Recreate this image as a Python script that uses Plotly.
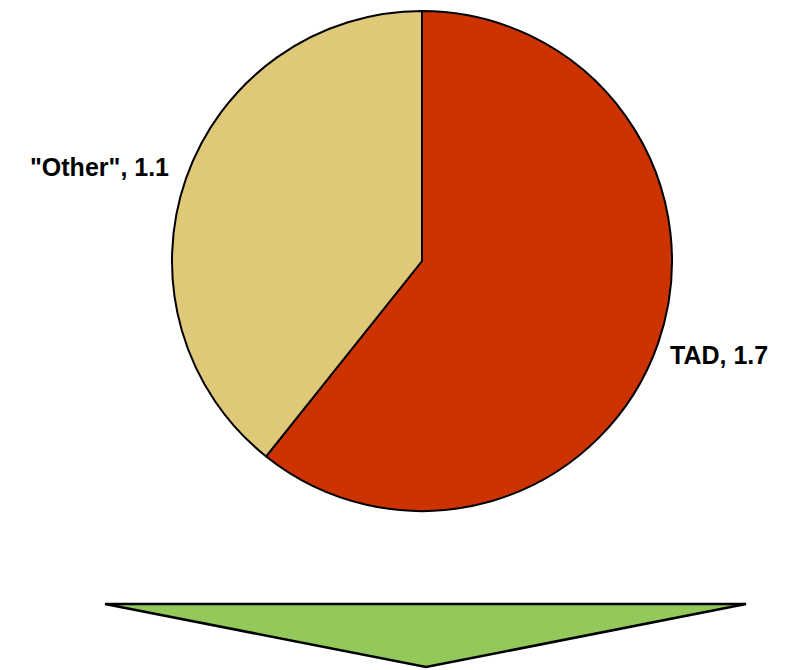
import plotly.graph_objects as go

labels = ["TAD", '"Other"']
values = [1.7, 1.1]
colors = ["#CC3300", "#DFC878"]

W, H = 795, 670

def px_x(x):
    return x / W

def px_y(y):
    return 1 - y / H

fig = go.Figure()
fig.add_trace(go.Pie(
    labels=labels,
    values=values,
    sort=False,
    direction="clockwise",
    rotation=0,
    marker=dict(colors=colors, line=dict(color="black", width=2)),
    textinfo="none",
    hoverinfo="label+value",
    showlegend=False,
    domain=dict(x=[px_x(172), px_x(672)], y=[px_y(512), px_y(10)]),
))

label_pos = {"TAD": (668, 355, "left"), '"Other"': (171, 167, "right")}
for lab, val in zip(labels, values):
    x, y, anchor = label_pos[lab]
    fig.add_annotation(
        x=px_x(x), y=px_y(y), xref="paper", yref="paper",
        text=f"<b>{lab}, {val}</b>", showarrow=False,
        xanchor=anchor, yanchor="middle",
        font=dict(family="Liberation Sans, Arial, sans-serif", size=25, color="black"),
    )

# green down arrow (triangle)
x0, x1, xa = px_x(105), px_x(746), px_x(426)
yt, ya = px_y(604), px_y(667)
fig.add_shape(
    type="path", xref="paper", yref="paper",
    path=f"M {x0} {yt} L {x1} {yt} L {xa} {ya} Z",
    fillcolor="#92C95A", line=dict(color="black", width=2.5),
)

fig.update_layout(
    width=W, height=H,
    margin=dict(l=0, r=0, t=0, b=0),
    paper_bgcolor="white", plot_bgcolor="white",
)

fig.write_html("out.html")
